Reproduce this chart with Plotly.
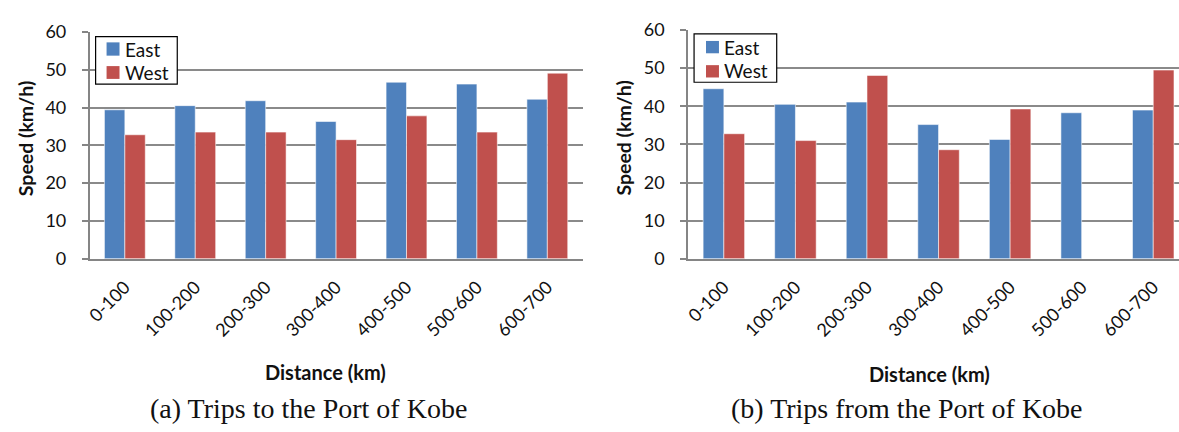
import plotly.graph_objects as go

# Distance bands (km)
categories = ["0-100", "100-200", "200-300", "300-400", "400-500", "500-600", "600-700"]

# (a) trips to the Port of Kobe, average speed (km/h)
to_east = [39.4, 40.5, 41.8, 36.3, 46.7, 46.2, 42.2]
to_west = [32.8, 33.5, 33.5, 31.5, 37.8, 33.5, 49.1]

# (b) trips from the Port of Kobe, average speed (km/h)
from_east = [44.6, 40.5, 41.1, 35.2, 31.3, 38.3, 39.0]
from_west = [32.8, 31.0, 48.1, 28.6, 39.3, None, 49.5]

y_ticks = [0, 10, 20, 30, 40, 50, 60]
series_names = ["East", "West"]

W, H = 1179, 432
EAST = "#4F81BD"
WEST = "#C0504D"
GRID = "#8a8a8a"
AXIS = "#858585"
TEXT = "#111111"
FONT = "Lato"
SERIF = "Liberation Serif"


def px(x):
    return x / W


def py(y):
    return 1 - y / H


bar_line = dict(color="rgba(255,255,255,0.55)", width=1)

fig = go.Figure()
for xa, ya, east, west in (("x", "y", to_east, to_west), ("x2", "y2", from_east, from_west)):
    fig.add_trace(go.Bar(x=categories, y=east, name=series_names[0],
                         marker=dict(color=EAST, line=bar_line),
                         xaxis=xa, yaxis=ya, showlegend=False))
    fig.add_trace(go.Bar(x=categories, y=west, name=series_names[1],
                         marker=dict(color=WEST, line=bar_line),
                         xaxis=xa, yaxis=ya, showlegend=False))

xaxis_common = dict(
    type="category", tickangle=-45, showgrid=False, zeroline=False,
    showline=True, linecolor=AXIS, linewidth=2, ticks="",
    ticklabelstandoff=9,
    tickfont=dict(family=FONT, size=18, color=TEXT), fixedrange=True,
)
yaxis_common = dict(
    range=[0, 60], tickvals=y_ticks, showgrid=True, gridcolor=GRID, gridwidth=1.5,
    zeroline=False, showline=True, linecolor=AXIS, linewidth=1.5,
    ticks="outside", ticklen=6, tickcolor=AXIS, tickwidth=1.5,
    ticklabelstandoff=12,
    tickfont=dict(family=FONT, size=18, color=TEXT), fixedrange=True,
)

fig.update_layout(
    width=W, height=H, margin=dict(l=0, r=0, t=0, b=0),
    paper_bgcolor="white", plot_bgcolor="white",
    barmode="group", bargap=0.42, bargroupgap=0, showlegend=False,
    xaxis=dict(xaxis_common, domain=[px(85), px(580)], range=[-0.5, 6.5], anchor="y"),
    yaxis=dict(yaxis_common, domain=[py(260), py(21)], anchor="x"),
    xaxis2=dict(xaxis_common, domain=[px(686), 1.0], range=[-0.5, 6.36], anchor="y2"),
    yaxis2=dict(yaxis_common, domain=[py(260), py(19)], anchor="x2"),
)

shapes = []
annotations = []


def add_legend(box, sq_x, sq_ys, text_x, text_ys):
    x0, y0, x1, y1 = box
    shapes.append(dict(type="rect", xref="paper", yref="paper",
                       x0=px(x0), x1=px(x1), y0=py(y1), y1=py(y0),
                       fillcolor="white", line=dict(color="black", width=1.2)))
    for color, (a, b), ty, name in zip((EAST, WEST), sq_ys, text_ys, series_names):
        shapes.append(dict(type="rect", xref="paper", yref="paper",
                           x0=px(sq_x[0]), x1=px(sq_x[1]), y0=py(b), y1=py(a),
                           fillcolor=color, line=dict(width=0)))
        annotations.append(dict(text=name, x=px(text_x), y=py(ty), xanchor="left",
                                font=dict(family=FONT, size=19, color=TEXT)))


add_legend((91, 26, 173, 76), (102, 115), ((32, 46), (57, 70.5)), 119, (39, 63.5))
add_legend((692, 23, 775, 74), (704, 717), ((30.5, 43.5), (56, 69)), 720, (37, 61.5))

for x in (20, 621):
    annotations.append(dict(text="<b>Speed (km/h)</b>", x=px(x), y=py(133), textangle=-90,
                            font=dict(family=FONT, size=19.5, color=TEXT)))
for x, y in ((322, 379), (928, 381)):
    annotations.append(dict(text="<b>Distance (km)</b>", x=px(x), y=py(y),
                            font=dict(family=FONT, size=20, color=TEXT)))
annotations.append(dict(text="(a) Trips to the Port of Kobe", x=px(305), y=py(418),
                        font=dict(family=SERIF, size=28, color=TEXT)))
annotations.append(dict(text="(b) Trips from the Port of Kobe", x=px(906), y=py(418),
                        font=dict(family=SERIF, size=28, color=TEXT)))

for a in annotations:
    a.setdefault("xanchor", "center")
    a.update(xref="paper", yref="paper", showarrow=False, yanchor="middle")

fig.update_layout(shapes=shapes, annotations=annotations)

fig.write_html("out.html")
